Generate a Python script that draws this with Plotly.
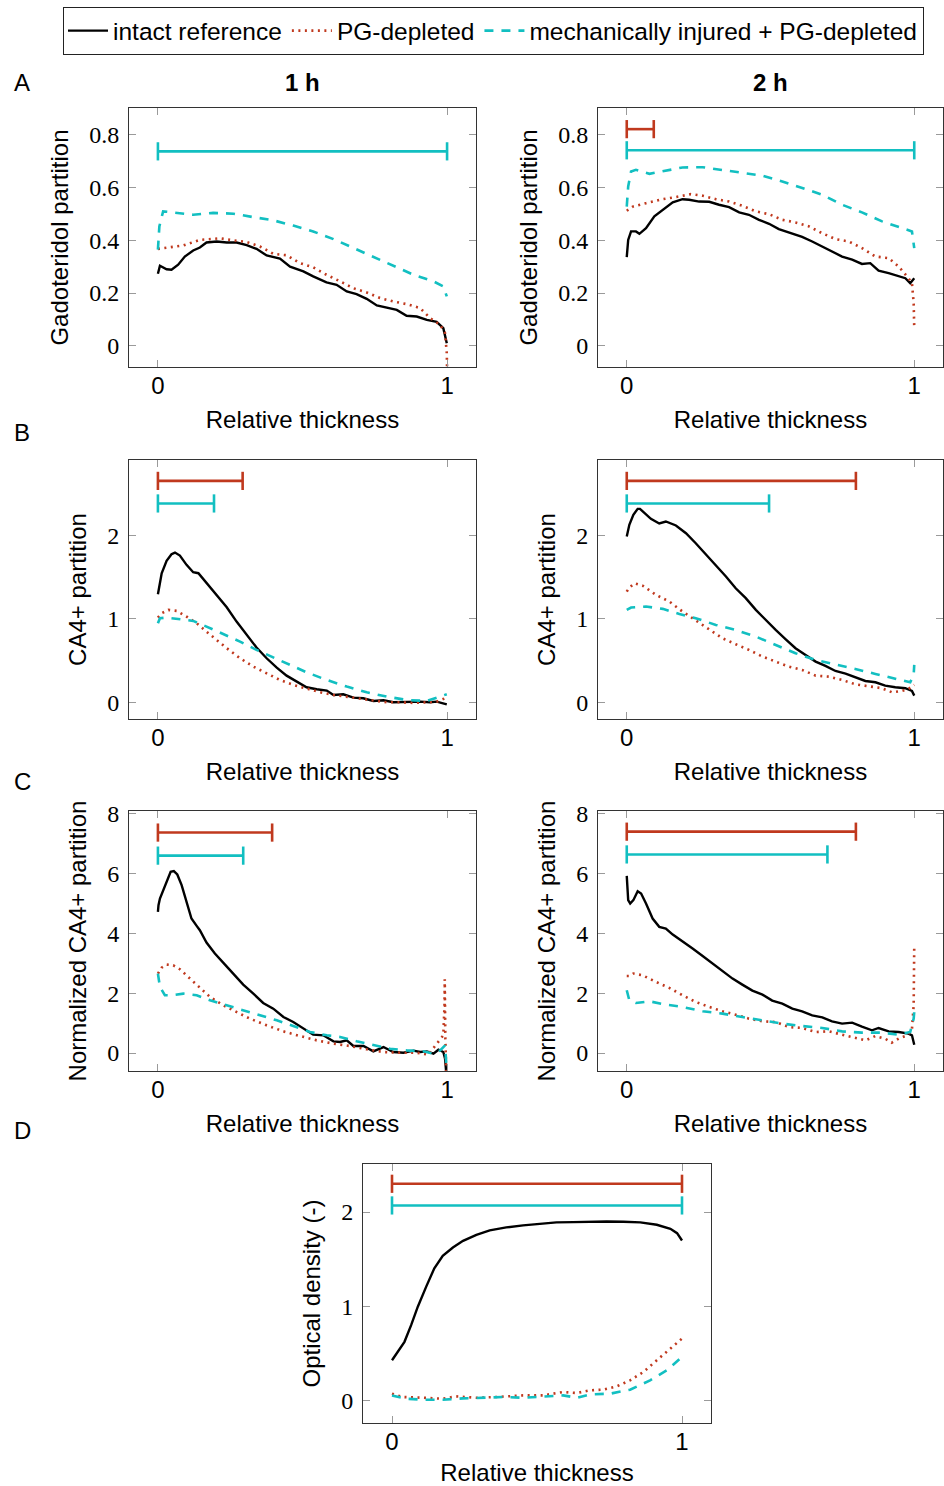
import plotly.graph_objects as go

# ---------------- data ----------------
# Panel A, 1 h (Gadoteridol partition)
A1_black_x = [0, 0.007, 0.03, 0.047, 0.07, 0.093, 0.122, 0.145, 0.168, 0.203, 0.238, 0.272, 0.307, 0.341, 0.376, 0.422, 0.457, 0.503, 0.537, 0.583, 0.618, 0.653, 0.687, 0.722, 0.757, 0.791, 0.826, 0.860, 0.895, 0.930, 0.964, 0.987, 0.999]
A1_black_y = [0.273, 0.303, 0.29, 0.288, 0.307, 0.338, 0.361, 0.372, 0.391, 0.395, 0.391, 0.391, 0.381, 0.367, 0.342, 0.330, 0.300, 0.282, 0.263, 0.240, 0.231, 0.206, 0.196, 0.178, 0.153, 0.146, 0.136, 0.114, 0.111, 0.098, 0.091, 0.067, 0.010]
A1_red_x = [0, 0.03, 0.088, 0.145, 0.215, 0.261, 0.307, 0.353, 0.4, 0.445, 0.491, 0.537, 0.583, 0.63, 0.676, 0.722, 0.768, 0.814, 0.86, 0.907, 0.941, 0.976, 0.993, 0.999, 1.0]
A1_red_y = [0.367, 0.372, 0.38, 0.401, 0.407, 0.399, 0.393, 0.376, 0.348, 0.343, 0.313, 0.297, 0.269, 0.244, 0.218, 0.202, 0.181, 0.168, 0.158, 0.143, 0.105, 0.08, 0.048, -0.028, -0.09]
A1_cyan_x = [0, 0.005, 0.018, 0.053, 0.122, 0.191, 0.261, 0.33, 0.399, 0.468, 0.537, 0.607, 0.676, 0.745, 0.814, 0.884, 0.953, 0.987, 0.999]
A1_cyan_y = [0.364, 0.452, 0.509, 0.505, 0.496, 0.503, 0.5, 0.487, 0.475, 0.455, 0.433, 0.404, 0.37, 0.338, 0.303, 0.269, 0.244, 0.225, 0.187]

# Panel A, 2 h
A2_black_x = [0, 0.005, 0.015, 0.032, 0.044, 0.067, 0.096, 0.125, 0.16, 0.194, 0.217, 0.252, 0.287, 0.321, 0.356, 0.391, 0.425, 0.46, 0.495, 0.529, 0.564, 0.61, 0.645, 0.68, 0.714, 0.749, 0.784, 0.818, 0.847, 0.876, 0.911, 0.946, 0.969, 0.986, 1.0]
A2_black_y = [0.336, 0.401, 0.433, 0.433, 0.424, 0.445, 0.49, 0.515, 0.543, 0.555, 0.553, 0.546, 0.545, 0.534, 0.525, 0.505, 0.496, 0.477, 0.462, 0.442, 0.43, 0.412, 0.395, 0.376, 0.36, 0.338, 0.326, 0.31, 0.313, 0.285, 0.275, 0.262, 0.256, 0.237, 0.256]
A2_red_x = [0, 0.021, 0.067, 0.125, 0.171, 0.223, 0.264, 0.31, 0.356, 0.402, 0.449, 0.495, 0.541, 0.587, 0.634, 0.68, 0.726, 0.772, 0.818, 0.865, 0.911, 0.946, 0.98, 0.992, 0.998, 1.0]
A2_red_y = [0.511, 0.527, 0.54, 0.555, 0.563, 0.574, 0.568, 0.555, 0.546, 0.53, 0.509, 0.498, 0.477, 0.467, 0.452, 0.426, 0.404, 0.395, 0.37, 0.338, 0.332, 0.3, 0.256, 0.237, 0.162, 0.067]
A2_cyan_x = [0, 0.005, 0.015, 0.032, 0.079, 0.136, 0.194, 0.264, 0.333, 0.402, 0.472, 0.541, 0.61, 0.68, 0.749, 0.818, 0.888, 0.957, 0.992, 1.0]
A2_cyan_y = [0.527, 0.603, 0.66, 0.666, 0.651, 0.664, 0.675, 0.676, 0.666, 0.656, 0.644, 0.622, 0.597, 0.572, 0.534, 0.505, 0.471, 0.445, 0.433, 0.37]

# Panel B, 1 h (CA4+ partition)
B1_black_x = [0, 0.013, 0.03, 0.047, 0.059, 0.076, 0.099, 0.122, 0.14, 0.168, 0.203, 0.238, 0.272, 0.307, 0.341, 0.376, 0.411, 0.445, 0.48, 0.514, 0.549, 0.584, 0.607, 0.641, 0.676, 0.71, 0.745, 0.78, 0.814, 0.86, 0.907, 0.941, 0.964, 0.999]
B1_black_y = [1.293, 1.545, 1.693, 1.772, 1.792, 1.756, 1.645, 1.557, 1.545, 1.425, 1.285, 1.138, 0.966, 0.806, 0.655, 0.527, 0.415, 0.319, 0.248, 0.18, 0.156, 0.14, 0.088, 0.096, 0.056, 0.048, 0.016, 0.024, 0.0, 0.008, 0.008, 0.0, 0.008, -0.024]
B1_red_x = [0, 0.013, 0.036, 0.065, 0.099, 0.134, 0.168, 0.203, 0.238, 0.284, 0.33, 0.376, 0.422, 0.468, 0.514, 0.561, 0.607, 0.653, 0.699, 0.745, 0.791, 0.837, 0.884, 0.93, 0.964, 0.999]
B1_red_y = [1.014, 1.066, 1.106, 1.094, 1.026, 0.946, 0.846, 0.746, 0.647, 0.527, 0.427, 0.347, 0.267, 0.208, 0.16, 0.12, 0.088, 0.064, 0.04, 0.016, 0.0, 0.0, -0.008, 0.0, 0.008, 0.056]
B1_cyan_x = [0, 0.007, 0.03, 0.076, 0.122, 0.168, 0.226, 0.284, 0.341, 0.399, 0.457, 0.514, 0.584, 0.653, 0.722, 0.791, 0.86, 0.93, 0.999]
B1_cyan_y = [0.946, 1.006, 1.014, 0.998, 0.974, 0.906, 0.818, 0.727, 0.627, 0.535, 0.447, 0.359, 0.267, 0.188, 0.12, 0.068, 0.028, 0.016, 0.096]

# Panel B, 2 h
B2_black_x = [0, 0.009, 0.023, 0.038, 0.046, 0.061, 0.084, 0.113, 0.136, 0.171, 0.206, 0.24, 0.275, 0.31, 0.345, 0.379, 0.414, 0.449, 0.483, 0.518, 0.553, 0.587, 0.622, 0.657, 0.691, 0.726, 0.761, 0.795, 0.83, 0.865, 0.899, 0.934, 0.969, 0.992, 1.0]
B2_black_y = [1.984, 2.124, 2.244, 2.315, 2.315, 2.263, 2.196, 2.14, 2.164, 2.116, 2.024, 1.904, 1.772, 1.645, 1.505, 1.365, 1.246, 1.106, 0.986, 0.866, 0.754, 0.647, 0.567, 0.487, 0.435, 0.375, 0.343, 0.295, 0.255, 0.24, 0.2, 0.18, 0.168, 0.136, 0.08]
B2_red_x = [0, 0.009, 0.027, 0.055, 0.102, 0.148, 0.194, 0.24, 0.287, 0.333, 0.379, 0.425, 0.472, 0.518, 0.564, 0.61, 0.657, 0.703, 0.749, 0.795, 0.842, 0.888, 0.922, 0.957, 0.98, 1.0]
B2_red_y = [1.325, 1.373, 1.425, 1.397, 1.285, 1.206, 1.086, 0.978, 0.866, 0.766, 0.695, 0.627, 0.547, 0.487, 0.427, 0.387, 0.319, 0.307, 0.267, 0.216, 0.196, 0.168, 0.12, 0.136, 0.16, 0.208]
B2_cyan_x = [0, 0.015, 0.067, 0.125, 0.183, 0.24, 0.31, 0.379, 0.449, 0.518, 0.587, 0.657, 0.726, 0.795, 0.865, 0.934, 0.986, 0.998, 1.0]
B2_cyan_y = [1.106, 1.134, 1.146, 1.118, 1.058, 1.006, 0.926, 0.866, 0.786, 0.687, 0.587, 0.507, 0.455, 0.399, 0.339, 0.279, 0.24, 0.327, 0.447]

# Panel C, 1 h (Normalized CA4+ partition)
C1_black_x = [0, 0.002, 0.007, 0.018, 0.03, 0.044, 0.055, 0.067, 0.082, 0.099, 0.116, 0.134, 0.145, 0.168, 0.197, 0.232, 0.261, 0.295, 0.33, 0.364, 0.399, 0.434, 0.468, 0.503, 0.537, 0.572, 0.607, 0.63, 0.653, 0.676, 0.711, 0.745, 0.78, 0.814, 0.849, 0.884, 0.907, 0.93, 0.953, 0.970, 0.987, 0.993, 0.997]
C1_black_y = [4.713, 4.936, 5.159, 5.437, 5.738, 6.05, 6.072, 5.961, 5.604, 5.047, 4.49, 4.245, 4.1, 3.688, 3.32, 2.953, 2.652, 2.284, 1.983, 1.671, 1.482, 1.203, 1.036, 0.813, 0.613, 0.591, 0.39, 0.368, 0.423, 0.234, 0.234, 0.056, 0.2, 0.033, 0.011, 0.078, 0.033, 0.056, -0.022, 0.111, 0.033, -0.189, -0.65]
C1_red_x = [0, 0.013, 0.03, 0.053, 0.076, 0.111, 0.145, 0.18, 0.226, 0.272, 0.318, 0.376, 0.434, 0.491, 0.549, 0.607, 0.664, 0.722, 0.78, 0.837, 0.895, 0.935, 0.958, 0.976, 0.987, 0.991, 0.992, 0.994, 0.997]
C1_red_y = [2.652, 2.852, 2.953, 2.93, 2.797, 2.485, 2.15, 1.872, 1.593, 1.37, 1.148, 0.925, 0.724, 0.568, 0.423, 0.312, 0.234, 0.123, 0.033, 0.011, 0.011, -0.056, 0.234, 0.423, 0.591, 1.593, 2.462, 0.479, -0.65]
C1_cyan_x = [0, 0.007, 0.024, 0.047, 0.088, 0.134, 0.18, 0.238, 0.295, 0.353, 0.411, 0.468, 0.526, 0.584, 0.63, 0.687, 0.745, 0.803, 0.86, 0.918, 0.953, 0.976, 0.993, 0.997, 0.999]
C1_cyan_y = [2.652, 2.206, 1.928, 1.928, 1.983, 1.928, 1.76, 1.593, 1.426, 1.281, 1.092, 0.903, 0.702, 0.591, 0.535, 0.39, 0.279, 0.145, 0.089, 0.056, -0.022, 0.089, 0.256, -0.189, -0.6]

# Panel C, 2 h
C2_black_x = [0, 0.005, 0.012, 0.023, 0.038, 0.05, 0.067, 0.09, 0.113, 0.136, 0.16, 0.194, 0.229, 0.264, 0.298, 0.333, 0.368, 0.402, 0.437, 0.472, 0.506, 0.541, 0.576, 0.61, 0.645, 0.68, 0.714, 0.749, 0.784, 0.818, 0.853, 0.876, 0.911, 0.946, 0.98, 0.992, 1.0]
C2_black_y = [5.916, 5.103, 4.992, 5.103, 5.404, 5.326, 4.992, 4.49, 4.212, 4.156, 3.955, 3.733, 3.487, 3.242, 2.986, 2.73, 2.485, 2.284, 2.084, 1.95, 1.749, 1.649, 1.482, 1.393, 1.259, 1.192, 1.058, 0.981, 1.014, 0.88, 0.758, 0.836, 0.724, 0.702, 0.646, 0.591, 0.279]
C2_red_x = [0, 0.009, 0.023, 0.055, 0.102, 0.148, 0.194, 0.24, 0.287, 0.333, 0.379, 0.425, 0.472, 0.518, 0.564, 0.61, 0.657, 0.703, 0.749, 0.795, 0.83, 0.865, 0.899, 0.922, 0.946, 0.975, 0.992, 0.998, 1.0]
C2_red_y = [2.574, 2.574, 2.652, 2.596, 2.373, 2.173, 1.928, 1.705, 1.538, 1.393, 1.281, 1.148, 1.058, 1.036, 0.869, 0.836, 0.702, 0.724, 0.613, 0.501, 0.423, 0.568, 0.479, 0.345, 0.479, 0.591, 0.791, 1.593, 3.599]
C2_cyan_x = [0, 0.009, 0.032, 0.079, 0.136, 0.194, 0.264, 0.333, 0.402, 0.472, 0.541, 0.61, 0.68, 0.749, 0.818, 0.888, 0.946, 0.986, 0.998, 1.0]
C2_cyan_y = [2.095, 1.76, 1.671, 1.727, 1.616, 1.538, 1.393, 1.315, 1.203, 1.092, 0.981, 0.903, 0.836, 0.724, 0.68, 0.68, 0.613, 0.702, 1.148, 1.37]

# Panel D (Optical density)
D_black_x = [0, 0.02, 0.043, 0.066, 0.089, 0.118, 0.146, 0.175, 0.21, 0.245, 0.291, 0.337, 0.394, 0.452, 0.51, 0.567, 0.625, 0.683, 0.74, 0.798, 0.856, 0.913, 0.96, 0.983, 1.0]
D_black_y = [0.426, 0.515, 0.622, 0.799, 0.995, 1.208, 1.403, 1.535, 1.624, 1.694, 1.758, 1.805, 1.837, 1.858, 1.876, 1.89, 1.893, 1.9, 1.9, 1.897, 1.89, 1.865, 1.822, 1.776, 1.698]
D_red_x = [0, 0.037, 0.106, 0.175, 0.221, 0.291, 0.36, 0.452, 0.521, 0.59, 0.637, 0.683, 0.729, 0.775, 0.821, 0.867, 0.913, 0.96, 1.0]
D_red_y = [0.071, 0.036, 0.028, 0.018, 0.043, 0.028, 0.036, 0.053, 0.053, 0.089, 0.078, 0.107, 0.114, 0.149, 0.213, 0.302, 0.426, 0.551, 0.657]
D_cyan_x = [0, 0.048, 0.106, 0.175, 0.245, 0.314, 0.383, 0.452, 0.521, 0.59, 0.637, 0.683, 0.752, 0.821, 0.89, 0.948, 1.0]
D_cyan_y = [0.053, 0.018, 0.007, 0.007, 0.021, 0.028, 0.036, 0.028, 0.043, 0.053, 0.028, 0.064, 0.071, 0.114, 0.213, 0.32, 0.462]

# Significance ranges: [start, end, level]
A1_sig_red = None
A1_sig_cyan = [0.0, 1.0, 0.736]
A2_sig_red = [0.0, 0.094, 0.82]
A2_sig_cyan = [0.0, 1.0, 0.74]
B1_sig_red = [0.0, 0.293, 2.65]
B1_sig_cyan = [0.0, 0.194, 2.38]
B2_sig_red = [0.0, 0.797, 2.65]
B2_sig_cyan = [0.0, 0.495, 2.38]
C1_sig_red = [0.0, 0.395, 7.36]
C1_sig_cyan = [0.0, 0.295, 6.59]
C2_sig_red = [0.0, 0.797, 7.39]
C2_sig_cyan = [0.0, 0.698, 6.63]
D_sig_red = [0.0, 1.0, 2.30]
D_sig_cyan = [0.0, 1.0, 2.07]

series_names = ["intact reference", "PG-depleted", "mechanically injured + PG-depleted"]
x_ticks = [0, 1]
A_yticks = [0, 0.2, 0.4, 0.6, 0.8]
A_yticktext = ["0", "0.2", "0.4", "0.6", "0.8"]
B_yticks = [0, 1, 2]
C_yticks = [0, 2, 4, 6, 8]
D_yticks = [0, 1, 2]

# ---------------- styling ----------------
W, H = 944, 1486
BLACK = "#000000"
RED = "#c0391e"
CYAN = "#12bfc1"
SANS = "Liberation Sans, Arial, sans-serif"
SERIF = "Liberation Serif, Times New Roman, serif"
FS = 24

def px_x(a, b):
    return [a / W, b / W]

def px_y(top, bottom):
    return [1 - bottom / H, 1 - top / H]

panels = [
    dict(x=px_x(129, 476), y=px_y(108, 367), yr=[-0.08, 0.9], yt=A_yticks, ytt=A_yticktext,
         yl="Gadoteridol partition",
         data=[(A1_black_x, A1_black_y), (A1_red_x, A1_red_y), (A1_cyan_x, A1_cyan_y)],
         sig=[A1_sig_red, A1_sig_cyan]),
    dict(x=px_x(598, 943), y=px_y(108, 367), yr=[-0.08, 0.9], yt=A_yticks, ytt=A_yticktext,
         yl="Gadoteridol partition",
         data=[(A2_black_x, A2_black_y), (A2_red_x, A2_red_y), (A2_cyan_x, A2_cyan_y)],
         sig=[A2_sig_red, A2_sig_cyan]),
    dict(x=px_x(129, 476), y=px_y(460, 719), yr=[-0.2, 2.9], yt=B_yticks, ytt=None,
         yl="CA4+ partition",
         data=[(B1_black_x, B1_black_y), (B1_red_x, B1_red_y), (B1_cyan_x, B1_cyan_y)],
         sig=[B1_sig_red, B1_sig_cyan]),
    dict(x=px_x(598, 943), y=px_y(460, 719), yr=[-0.2, 2.9], yt=B_yticks, ytt=None,
         yl="CA4+ partition",
         data=[(B2_black_x, B2_black_y), (B2_red_x, B2_red_y), (B2_cyan_x, B2_cyan_y)],
         sig=[B2_sig_red, B2_sig_cyan]),
    dict(x=px_x(129, 476), y=px_y(811, 1071), yr=[-0.6, 8.08], yt=C_yticks, ytt=None,
         yl="Normalized CA4+ partition",
         data=[(C1_black_x, C1_black_y), (C1_red_x, C1_red_y), (C1_cyan_x, C1_cyan_y)],
         sig=[C1_sig_red, C1_sig_cyan]),
    dict(x=px_x(598, 943), y=px_y(811, 1071), yr=[-0.6, 8.08], yt=C_yticks, ytt=None,
         yl="Normalized CA4+ partition",
         data=[(C2_black_x, C2_black_y), (C2_red_x, C2_red_y), (C2_cyan_x, C2_cyan_y)],
         sig=[C2_sig_red, C2_sig_cyan]),
    dict(x=px_x(363, 711), y=px_y(1164, 1423), yr=[-0.24, 2.51], yt=D_yticks, ytt=None,
         yl="Optical density (-)",
         data=[(D_black_x, D_black_y), (D_red_x, D_red_y), (D_cyan_x, D_cyan_y)],
         sig=[D_sig_red, D_sig_cyan]),
]

line_styles = [
    dict(color=BLACK, width=2.4, dash="solid"),
    dict(color=RED, width=2.6, dash="2px,4.5px"),
    dict(color=CYAN, width=2.6, dash="9px,8px"),
]
sig_colors = [RED, CYAN]

fig = go.Figure()
layout = dict(
    width=W, height=H, autosize=False,
    margin=dict(l=0, r=0, t=0, b=0, pad=0, autoexpand=False),
    paper_bgcolor="white", plot_bgcolor="white",
    showlegend=True,
    legend=dict(
        orientation="h", x=63 / W, y=1 - 31 / H, xanchor="left", yanchor="middle",
        bgcolor="white", bordercolor="#222", borderwidth=1.2,
        font=dict(family=SANS, size=24.5, color="black"),
        itemwidth=40, tracegroupgap=0,
    ),
)

for i, p in enumerate(panels):
    n = i + 1
    xa = "x" if n == 1 else f"x{n}"
    ya = "y" if n == 1 else f"y{n}"
    for j, (xs, ys) in enumerate(p["data"]):
        fig.add_trace(go.Scatter(
            x=xs, y=ys, mode="lines", xaxis=xa, yaxis=ya,
            line=line_styles[j], name=series_names[j], legendgroup=series_names[j],
            showlegend=(i == 0), hoverinfo="skip", cliponaxis=True,
        ))
    for k, s in enumerate(p["sig"]):
        if s is None:
            continue
        fig.add_trace(go.Scatter(
            x=[s[0], s[1]], y=[s[2], s[2]], mode="lines+markers", xaxis=xa, yaxis=ya,
            line=dict(color=sig_colors[k], width=2.6),
            marker=dict(symbol="line-ns", size=13, line=dict(color=sig_colors[k], width=2.6)),
            showlegend=False, hoverinfo="skip",
        ))
    axis_common = dict(
        showline=True, linecolor="#333", linewidth=1.1, mirror="allticks",
        ticks="inside", ticklen=7, tickcolor="#9a9a9a", tickwidth=1.2,
        showgrid=False, zeroline=False, fixedrange=True, automargin=False,
    )
    layout["xaxis" if n == 1 else f"xaxis{n}"] = dict(
        domain=p["x"], range=[-0.1, 1.1], anchor=ya, tickvals=x_ticks,
        tickfont=dict(family=SANS, size=FS, color="black"), ticklabelstandoff=-3,
        title=dict(text="Relative thickness", font=dict(family=SANS, size=FS, color="black"), standoff=13),
        **axis_common,
    )
    ydict = dict(
        domain=p["y"], range=p["yr"], anchor=xa, tickvals=p["yt"],
        tickfont=dict(family=SERIF, size=FS, color="black"), ticklabelstandoff=4,
        title=dict(text=p["yl"], font=dict(family=SANS, size=FS, color="black"), standoff=13),
        **axis_common,
    )
    if p["ytt"] is not None:
        ydict["ticktext"] = p["ytt"]
    layout["yaxis" if n == 1 else f"yaxis{n}"] = ydict

annotations = []
for letter, yc in [("A", 83), ("B", 432), ("C", 781), ("D", 1130)]:
    annotations.append(dict(text=letter, x=22 / W, y=1 - yc / H, xref="paper", yref="paper",
                            showarrow=False, xanchor="center", yanchor="middle",
                            font=dict(family=SANS, size=FS, color="black")))
for label, xc in [("<b>1 h</b>", 302.5 / W), ("<b>2 h</b>", 770.5 / W)]:
    annotations.append(dict(text=label, x=xc, y=1 - 83 / H, xref="paper", yref="paper",
                            showarrow=False, xanchor="center", yanchor="middle",
                            font=dict(family=SANS, size=FS, color="black")))
layout["annotations"] = annotations

fig.update_layout(**layout)
fig.write_html(
    "out.html",
    config={"displayModeBar": False, "responsive": False},
    post_script=(
        "document.documentElement.style.margin='0';"
        "document.body.style.margin='0';document.body.style.padding='0';"
        "document.body.style.overflow='hidden';"
        "var gd=document.getElementById('{plot_id}');"
        "gd.style.position='absolute';gd.style.left='0px';gd.style.top='0px';"
    ),
)
